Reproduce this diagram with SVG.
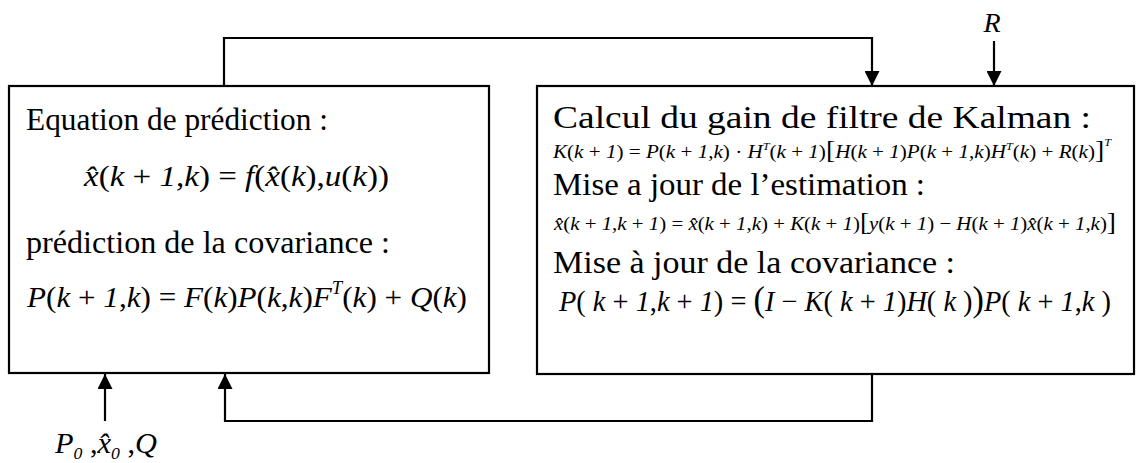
<svg xmlns="http://www.w3.org/2000/svg" width="1136" height="463" viewBox="0 0 1136 463">
<style>
.box{fill:#fff;stroke:#000;stroke-width:2.2}
.con{fill:none;stroke:#000;stroke-width:2.2}
.t,.m{font-family:'Liberation Serif','Times New Roman',Times,'DejaVu Serif',serif;fill:#000}
.t{font-size:31px}
.i{font-style:italic}
</style>
<defs>
<marker id="ah" viewBox="0 0 15 15" refX="15" refY="7.5" markerWidth="15" markerHeight="15" markerUnits="userSpaceOnUse" orient="auto">
<path d="M0,0 L15,7.5 L0,15 z" fill="#000"/>
</marker>
</defs>
<rect width="1136" height="463" fill="#fff"/>
<g id="connectors">
<path class="con" d="M224,86 V38 H872 V86" marker-end="url(#ah)"/>
<path class="con" d="M994,41 V86" marker-end="url(#ah)"/>
<path class="con" d="M872,374 V421 H225 V374" marker-end="url(#ah)"/>
<path class="con" d="M105,421 V374" marker-end="url(#ah)"/>
</g>
<g id="node-prediction">
<rect class="box" x="9" y="86" width="480" height="287"/>
<text class="t" x="26" y="130" textLength="302" lengthAdjust="spacingAndGlyphs">Equation de prédiction :</text>
<text class="m" x="84" y="186" font-size="30" textLength="305" lengthAdjust="spacingAndGlyphs"><tspan class="i">x̂</tspan>(<tspan class="i">k</tspan> + <tspan class="i">1</tspan>,<tspan class="i">k</tspan>) = <tspan class="i">f</tspan>(<tspan class="i">x̂</tspan>(<tspan class="i">k</tspan>),<tspan class="i">u</tspan>(<tspan class="i">k</tspan>))</text>
<text class="t" x="26" y="253" textLength="364" lengthAdjust="spacingAndGlyphs">prédiction de la covariance :</text>
<text class="m" x="27" y="307" font-size="30" textLength="440" lengthAdjust="spacingAndGlyphs"><tspan class="i">P</tspan>(<tspan class="i">k</tspan> + <tspan class="i">1</tspan>,<tspan class="i">k</tspan>) = <tspan class="i">F</tspan>(<tspan class="i">k</tspan>)<tspan class="i">P</tspan>(<tspan class="i">k</tspan>,<tspan class="i">k</tspan>)<tspan class="i">F</tspan><tspan class="i" font-size="18" dy="-13">T</tspan><tspan dy="13">(</tspan><tspan class="i">k</tspan>) + <tspan class="i">Q</tspan>(<tspan class="i">k</tspan>)</text>
</g>
<g id="node-update">
<rect class="box" x="537" y="86" width="597" height="288"/>
<text class="t" x="553" y="128" textLength="538" lengthAdjust="spacingAndGlyphs">Calcul du gain de filtre de Kalman :</text>
<text class="m" x="553" y="158" font-size="19" textLength="558" lengthAdjust="spacingAndGlyphs"><tspan class="i">K</tspan>(<tspan class="i">k</tspan> + <tspan class="i">1</tspan>) = <tspan class="i">P</tspan>(<tspan class="i">k</tspan> + <tspan class="i">1</tspan>,<tspan class="i">k</tspan>) · <tspan class="i">H</tspan><tspan class="i" font-size="11" dy="-8">T</tspan><tspan dy="8">(</tspan><tspan class="i">k</tspan> + <tspan class="i">1</tspan>)<tspan font-size="25">[</tspan><tspan class="i">H</tspan>(<tspan class="i">k</tspan> + <tspan class="i">1</tspan>)<tspan class="i">P</tspan>(<tspan class="i">k</tspan> + <tspan class="i">1</tspan>,<tspan class="i">k</tspan>)<tspan class="i">H</tspan><tspan class="i" font-size="11" dy="-8">T</tspan><tspan dy="8">(</tspan><tspan class="i">k</tspan>) + <tspan class="i">R</tspan>(<tspan class="i">k</tspan>)<tspan font-size="25">]</tspan><tspan class="i" font-size="11" dy="-12">T</tspan></text>
<text class="t" x="553" y="195" textLength="372" lengthAdjust="spacingAndGlyphs">Mise a jour de l’estimation :</text>
<text class="m" x="554" y="230" font-size="19" textLength="562" lengthAdjust="spacingAndGlyphs"><tspan class="i">x̂</tspan>(<tspan class="i">k</tspan> + <tspan class="i">1</tspan>,<tspan class="i">k</tspan> + <tspan class="i">1</tspan>) = <tspan class="i">x̂</tspan>(<tspan class="i">k</tspan> + <tspan class="i">1</tspan>,<tspan class="i">k</tspan>) + <tspan class="i">K</tspan>(<tspan class="i">k</tspan> + <tspan class="i">1</tspan>)<tspan font-size="25">[</tspan><tspan class="i">y</tspan>(<tspan class="i">k</tspan> + <tspan class="i">1</tspan>) − <tspan class="i">H</tspan>(<tspan class="i">k</tspan> + <tspan class="i">1</tspan>)<tspan class="i">x̂</tspan>(<tspan class="i">k</tspan> + <tspan class="i">1</tspan>,<tspan class="i">k</tspan>)<tspan font-size="25">]</tspan></text>
<text class="t" x="553" y="273" textLength="402" lengthAdjust="spacingAndGlyphs">Mise à jour de la covariance :</text>
<text class="m" x="559" y="311" font-size="29" textLength="552" lengthAdjust="spacingAndGlyphs"><tspan class="i">P</tspan>( <tspan class="i">k</tspan> + <tspan class="i">1</tspan>,<tspan class="i">k</tspan> + <tspan class="i">1</tspan>) = <tspan font-size="35">(</tspan><tspan class="i">I</tspan> − <tspan class="i">K</tspan>( <tspan class="i">k</tspan> + <tspan class="i">1</tspan>)<tspan class="i">H</tspan>( <tspan class="i">k</tspan> )<tspan font-size="35">)</tspan><tspan class="i">P</tspan>( <tspan class="i">k</tspan> + <tspan class="i">1</tspan>,<tspan class="i">k</tspan> )</text>
</g>
<g id="label-R">
<text class="m i" x="992" y="32" font-size="28" text-anchor="middle">R</text>
</g>
<g id="label-init">
<text class="m" x="55" y="453" font-size="29" textLength="102" lengthAdjust="spacingAndGlyphs"><tspan class="i">P</tspan><tspan class="i" font-size="17" dy="6">0</tspan><tspan dy="-6"> ,</tspan><tspan class="i">x̂</tspan><tspan class="i" font-size="17" dy="6">0</tspan><tspan dy="-6"> ,</tspan><tspan class="i">Q</tspan></text>
</g>
</svg>
